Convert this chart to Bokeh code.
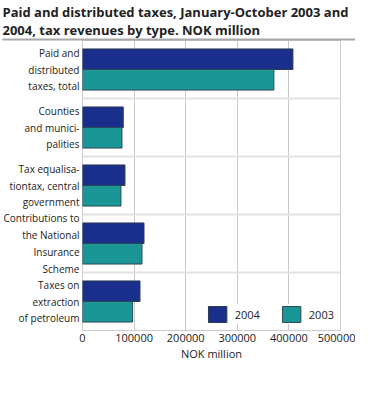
from bokeh.plotting import figure
from bokeh.models import (ColumnDataSource, Range1d, FixedTicker, Legend, LegendItem,
                          BasicTickFormatter, Title, ColorBar, LinearColorMapper)
from bokeh.transform import dodge
from bokeh.embed import file_html
from bokeh.resources import INLINE

categories = ["Paid and\ndistributed\ntaxes, total",
              "Counties\nand munici-\npalities",
              "Tax equalisa-\ntiontax, central\ngovernment",
              "Contributions to\nthe National\nInsurance\nScheme",
              "Taxes on\nextraction\nof petroleum"]
values_2004 = [407800, 79000, 82300, 119200, 111400]
values_2003 = [370900, 76500, 74500, 115300, 97100]
x_ticks = [0, 100000, 200000, 300000, 400000, 500000]
title_text = ("Paid and distributed taxes, January-October 2003 and\n"
              "2004, tax revenues by type. NOK million")

FONT = "Open Sans"
TXT = "#222222"
C2004 = "#1a2f8c"
C2003 = "#1a9696"
RULE = "#a8a8a8"

pos = list(range(len(categories)))
src = ColumnDataSource(dict(y=pos, v2004=values_2004, v2003=values_2003))

p = figure(width=353, height=384, frame_width=258, frame_height=290,
           output_backend="svg", toolbar_location=None,
           x_range=Range1d(0, 500000), y_range=Range1d(len(categories) - 0.5, -0.5),
           min_border_left=80, min_border_right=15, min_border_top=0, min_border_bottom=0)
p.title.visible = False
p.outline_line_color = "#cccccc"

p.add_layout(ColorBar(color_mapper=LinearColorMapper(palette=[RULE], low=0, high=1),
                      orientation="horizontal", location=(-80, 0), width=353, height=2,
                      padding=0, margin=0, ticker=FixedTicker(ticks=[]),
                      major_tick_line_color=None, minor_tick_line_color=None,
                      bar_line_color=None, border_line_color=None, background_fill_alpha=0),
             "above")
p.add_layout(Title(text=title_text, align="left", offset=-80, standoff=0, text_font=FONT,
                   text_font_size="13px", text_font_style="bold", text_color=TXT), "above")

r1 = p.hbar(y=dodge("y", -0.177, range=p.y_range), right="v2004", left=0, height=0.354,
            source=src, fill_color=C2004, line_color="#2b3a55", line_width=1)
r2 = p.hbar(y=dodge("y", 0.177, range=p.y_range), right="v2003", left=0, height=0.354,
            source=src, fill_color=C2003, line_color="#2b4a55", line_width=1)

p.xaxis.ticker = FixedTicker(ticks=x_ticks)
p.xaxis.formatter = BasicTickFormatter(use_scientific=False)
p.xaxis.axis_line_color = None
p.xaxis.major_tick_line_color = None
p.xaxis.minor_tick_line_color = None
p.xaxis.major_tick_out = 0
p.xaxis.major_tick_in = 0
p.xaxis.minor_tick_out = 0
p.xaxis.major_label_text_font = FONT
p.xaxis.major_label_text_font_size = "11px"
p.xaxis.major_label_text_color = TXT
p.xaxis.major_label_standoff = 3
p.xaxis.axis_label = "NOK million"
p.xaxis.axis_label_text_font = FONT
p.xaxis.axis_label_text_font_size = "11px"
p.xaxis.axis_label_text_font_style = "normal"
p.xaxis.axis_label_text_color = TXT
p.xaxis.axis_label_standoff = 1

p.yaxis.ticker = FixedTicker(ticks=pos)
p.yaxis.major_label_overrides = {i: c for i, c in enumerate(categories)}
p.yaxis.axis_line_color = None
p.yaxis.major_tick_line_color = None
p.yaxis.minor_tick_line_color = None
p.yaxis.major_tick_out = 0
p.yaxis.major_tick_in = 0
p.yaxis.minor_tick_out = 0
p.yaxis.major_label_text_font = FONT
p.yaxis.major_label_text_font_size = "10px"
p.yaxis.major_label_text_color = TXT
p.yaxis.major_label_standoff = 3

p.xgrid.ticker = FixedTicker(ticks=x_ticks[1:-1])
p.xgrid.grid_line_color = "#c8c8c8"
p.ygrid.ticker = FixedTicker(ticks=[i + 0.5 for i in pos[:-1]])
p.ygrid.grid_line_color = "#e2e2e2"
p.ygrid.grid_line_width = 2

legend = Legend(items=[LegendItem(label="2004", renderers=[r1]),
                       LegendItem(label="2003", renderers=[r2])],
                orientation="horizontal", location="bottom_right", padding=4, margin=6,
                glyph_width=23, glyph_height=20, label_standoff=6, spacing=20,
                label_text_font=FONT, label_text_font_size="11px", label_text_color=TXT,
                border_line_color=None, background_fill_color="white",
                background_fill_alpha=1)
p.add_layout(legend, "center")

open("out.html", "w").write(file_html(p, INLINE))
